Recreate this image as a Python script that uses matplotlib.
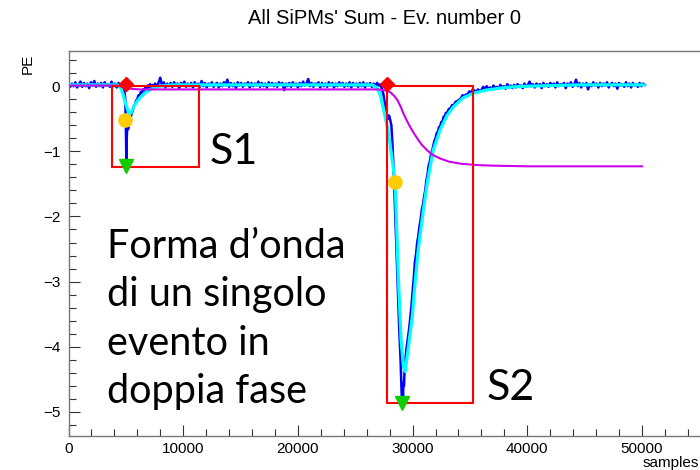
import matplotlib
matplotlib.use("Agg")
import matplotlib.pyplot as plt
from matplotlib.patches import Rectangle
from matplotlib.ticker import MultipleLocator

# ---------------- data ----------------
title = "All SiPMs' Sum - Ev. number 0"
x_label = "samples"
y_label = "PE"
x_ticks = [0, 10000, 20000, 30000, 40000, 50000]
y_ticks = [0, -1, -2, -3, -4, -5]

# raw waveform (blue): baseline stretches sampled every 150 samples
base_step = 150
base1_start = 0
base1_y = [0.05, -0.01, 0.04, 0.00, 0.06, -0.02, 0.03, 0.07, -0.01, 0.05, 0.00, 0.04, -0.03, 0.06,
           0.01, 0.08, -0.01, 0.04, 0.00, 0.05, -0.02, 0.06, 0.01, 0.03, -0.01, 0.07, 0.00, 0.04,
           -0.02, 0.05, 0.01, 0.03, -0.01]
s1_x = [4850, 4950, 5000, 5050, 5080, 5120, 5200, 5300, 5400, 5500, 5600, 5700, 5800, 5900, 6000,
        6100, 6200, 6300, 6400, 6500, 6600, 6700, 6800, 6900, 7000, 7100, 7200, 7300]
s1_y = [-0.02, -0.20, -0.60, -1.22, -0.80, -0.60, -0.66, -0.55, -0.50, -0.42, -0.38, -0.30, -0.28,
        -0.22, -0.20, -0.14, -0.15, -0.09, -0.10, -0.05, -0.07, -0.02, -0.04, 0.01, -0.02, 0.03,
        -0.01, 0.02]
base2_start = 7400
base2_y = [0.00, 0.04, -0.01, 0.05, 0.13, 0.01, 0.06, -0.02, 0.04, 0.00,
           0.05, -0.01, 0.06, 0.02, 0.04, -0.03, 0.05, 0.01, 0.07, -0.01,
           0.04, 0.00, 0.05, -0.02, 0.06, 0.01, 0.04, -0.01, 0.08, 0.00,
           0.05, -0.02, 0.04, 0.01, 0.06, -0.01, 0.03, 0.05, -0.02, 0.04,
           0.00, 0.06, 0.01, 0.10, -0.01, 0.05, 0.00, 0.04, -0.03, 0.06,
           0.01, 0.05, -0.01, 0.04, 0.02, 0.06, -0.02, 0.05, 0.00, 0.04,
           0.01, 0.07, -0.01, 0.05, 0.00, 0.04, -0.02, 0.06, 0.01, 0.05,
           0.00, 0.04, -0.01, 0.06, 0.02, 0.05, -0.06, 0.04, 0.00, 0.05,
           -0.01, 0.06, 0.01, 0.04, -0.02, 0.05, 0.00, 0.07, 0.01, 0.04,
           0.11, 0.00, 0.05, -0.01, 0.04, 0.02, 0.06, -0.02, 0.05, 0.00,
           0.04, -0.01, 0.06, 0.01, 0.05, -0.02, 0.04, 0.00, 0.06, 0.01,
           0.05, -0.01, 0.04, 0.00, 0.06, -0.02, 0.05, 0.01, 0.04, -0.01,
           0.05, 0.00, 0.06, -0.02, 0.04, 0.01, 0.05, -0.01, 0.04, 0.00,
           0.05, 0.01, 0.03]
s2_x = [27300, 27450, 27600, 27750, 27850, 27950, 28050, 28150, 28250, 28350, 28450, 28550, 28650,
        28750, 28850, 28950, 29000, 29050, 29100, 29130, 29160, 29200, 29250, 29300, 29450, 29600,
        29700, 29800, 29900, 30000, 30100, 30200, 30300, 30400, 30500, 30600, 30700, 30800, 30900,
        31000, 31100, 31200, 31300, 31400, 31500, 31600, 31700, 31800, 31900, 32000, 32100, 32200,
        32300, 32400, 32500, 32600, 32700, 32800, 32900, 33000, 33150, 33300, 33450, 33600, 33750,
        33900, 34050, 34200, 34350, 34500, 34650, 34800, 34950, 35100, 35250, 35400, 35550, 35700,
        35850]
s2_y = [-0.03, -0.12, -0.28, -0.42, -0.50, -0.45, -0.52, -0.60, -0.90, -1.30, -1.80, -2.30, -2.80,
        -3.30, -3.80, -4.20, -4.50, -4.75, -4.86, -4.60, -4.80, -4.55, -4.60, -4.35, -4.05, -3.85,
        -3.72, -3.55, -3.38, -3.15, -2.95, -2.70, -2.58, -2.40, -2.30, -2.15, -2.05, -1.90, -1.82,
        -1.70, -1.60, -1.45, -1.36, -1.22, -1.16, -1.05, -0.99, -0.92, -0.84, -0.80, -0.72, -0.70,
        -0.63, -0.62, -0.55, -0.55, -0.47, -0.47, -0.41, -0.42, -0.35, -0.34, -0.29, -0.29, -0.24,
        -0.23, -0.21, -0.19, -0.14, -0.15, -0.13, -0.12, -0.08, -0.10, -0.05, -0.07, -0.09, -0.05,
        -0.07]
base3_start = 36000
base3_y = [-0.06, -0.01, -0.05, 0.00, -0.04, -0.02, -0.05, 0.01, -0.03, -0.01,
           -0.04, 0.02, -0.02, 0.00, -0.04, 0.03, -0.01, 0.01, -0.03, 0.02,
           -0.02, 0.03, 0.00, 0.01, -0.03, 0.04, -0.01, 0.02, 0.07, 0.00,
           0.03, -0.02, 0.04, 0.01, 0.03, -0.03, 0.05, 0.00, 0.03, -0.01,
           0.05, 0.01, 0.04, -0.02, 0.06, 0.00, 0.03, 0.01, 0.05, -0.03,
           0.04, 0.01, 0.06, -0.01, 0.03, 0.10, 0.00, 0.05, -0.02, 0.04,
           0.01, 0.05, -0.05, 0.03, 0.00, 0.06, 0.01, 0.04, -0.02, 0.05,
           0.00, 0.04, 0.01, 0.06, -0.02, 0.03, 0.05, 0.00, 0.04, -0.04,
           0.05, 0.01, 0.03, -0.01, 0.06, 0.00, 0.04, -0.02, 0.05, 0.01,
           0.03, -0.01, 0.05, 0.00, 0.04, 0.02]

# smoothed waveform (cyan)
cyan_x = [0, 4300, 4530, 4750, 4965, 5150, 5320, 5450, 5660, 5950, 6270, 6700, 7140, 7600,
          8000, 9000, 26500, 26900, 27150, 27350, 27550, 27790, 28000, 28220, 28480, 28750,
          29000, 29200, 29350, 29600, 29970, 30200, 30490, 30900, 31270, 31800, 32400, 33000,
          33540, 34400, 35280, 36400, 37630, 38760, 40000, 44600, 50200]
cyan_y = [0.02, 0.02, -0.02, -0.12, -0.26, -0.36, -0.43, -0.41, -0.32, -0.24, -0.17, -0.10, -0.05, -0.02,
          0.00, 0.02, 0.02, -0.03, -0.12, -0.26, -0.42, -0.63, -0.85, -1.13, -1.47, -2.90,
          -3.90, -4.30, -4.38, -4.05, -3.54, -3.05, -2.51, -1.95, -1.49, -0.98, -0.67, -0.45,
          -0.32, -0.18, -0.11, -0.06, -0.03, -0.01, 0.00, 0.02, 0.02]

# integral (magenta)
mag_x = [0, 4300, 4500, 4800, 5100, 5500, 6200, 27000, 27400, 27800, 28100, 28400, 28700,
         29000, 29200, 29500, 29800, 30100, 30400, 30800, 31300, 31800, 32400, 33200, 34200,
         35500, 37000, 40000, 50000]
mag_y = [0.01, 0.01, 0.00, -0.02, -0.03, -0.04, -0.05, -0.05, -0.06, -0.07, -0.10, -0.15, -0.22,
         -0.33, -0.42, -0.53, -0.63, -0.72, -0.80, -0.90, -0.99, -1.06, -1.11, -1.16, -1.19,
         -1.21, -1.22, -1.23, -1.23]

# S1 / S2 windows: (start, end, bottom)
win_start = [3830, 27790]
win_end = [11400, 35280]
win_bottom = [-1.24, -4.87]
# markers
start_x = [5050, 27790]
start_y = [0.03, 0.03]
half_x = [4960, 28480]
half_y = [-0.52, -1.47]
peak_x = [5050, 29100]
peak_y = [-1.22, -4.86]

# annotations
big_labels = ["S1", "S2"]
note_lines = ["Forma d\u2019onda", "di un singolo", "evento in", "doppia fase"]

# assemble the blue trace from its pieces
def grid(start, vals):
    return [start + base_step * i for i in range(len(vals))]

blue_x = grid(base1_start, base1_y) + s1_x + grid(base2_start, base2_y) + s2_x + grid(base3_start, base3_y)
blue_y = base1_y + s1_y + base2_y + s2_y + base3_y

# ---------------- figure ----------------
W, H = 700, 470
fig = plt.figure(figsize=(W / 100, H / 100), dpi=100)
L, R, T, B = 68.5, 712, 51, 436
ax = fig.add_axes([L / W, 1 - B / H, (R - L) / W, (B - T) / H])
xmax = (R - L) / (642 - 68.5) * 50000
ax.set_xlim(0, xmax)
ax.set_ylim(-5.37, 0.54)

ax.plot(blue_x, blue_y, color="#0000FF", lw=1.8, zorder=2)
ax.plot(cyan_x, cyan_y, color="#00FFFF", lw=2.3, zorder=3, solid_joinstyle="round")
ax.plot(mag_x, mag_y, color="#CC00EE", lw=1.5, zorder=4)

for s, e, b in zip(win_start, win_end, win_bottom):
    ax.add_patch(Rectangle((s, b), e - s, 0 - b, fill=False, edgecolor="#FF0000", lw=1.5, zorder=5))

ax.plot(start_x, start_y, linestyle="none", marker="D", color="#FF0000", ms=7.5, zorder=6)
ax.plot(half_x, half_y, linestyle="none", marker="o", color="#FFCC00", ms=9.5, zorder=6)
ax.plot(peak_x, peak_y, linestyle="none", marker="v", color="#11CC00", ms=9.5, zorder=6)

ax.set_xticks(x_ticks)
ax.set_yticks(y_ticks)
ax.xaxis.set_minor_locator(MultipleLocator(2000))
ax.yaxis.set_minor_locator(MultipleLocator(0.2))
ax.set_xticklabels([str(v) for v in x_ticks], family="Liberation Sans", fontsize=11)
ax.set_yticklabels(["\u2212%d" % -v if v < 0 else str(v) for v in y_ticks], family="Liberation Sans", fontsize=11)
ax.tick_params(which="both", direction="in", color="#333333", top=False, right=False)
ax.tick_params(which="major", length=8, width=0.8)
ax.tick_params(which="minor", length=5, width=0.8)
ax.tick_params(axis="x", pad=4)
ax.tick_params(axis="y", pad=6)
for sp in ax.spines.values():
    sp.set_color("#777777")
    sp.set_linewidth(1.0)

fig.text(384 / W, 1 - 19 / H, title, ha="center", va="center", family="Liberation Sans", fontsize=14.5)
fig.text(28 / W, 1 - 54 / H, y_label, ha="center", va="top", rotation=90, family="Liberation Sans", fontsize=11)
fig.text(643 / W, 1 - 463 / H, x_label, ha="left", va="center", family="Liberation Sans", fontsize=11)

big_font = "Lato"
fig.text(210 / W, 1 - 164 / H, big_labels[0], ha="left", va="baseline", family=big_font, fontsize=31)
fig.text(487 / W, 1 - 400 / H, big_labels[1], ha="left", va="baseline", family=big_font, fontsize=31)
baselines = [258, 306, 355, 403]
for line, yb in zip(note_lines, baselines):
    fig.text(107 / W, 1 - yb / H, line, ha="left", va="baseline", family=big_font, fontsize=28.5)

fig.savefig("out.png", dpi=100)
